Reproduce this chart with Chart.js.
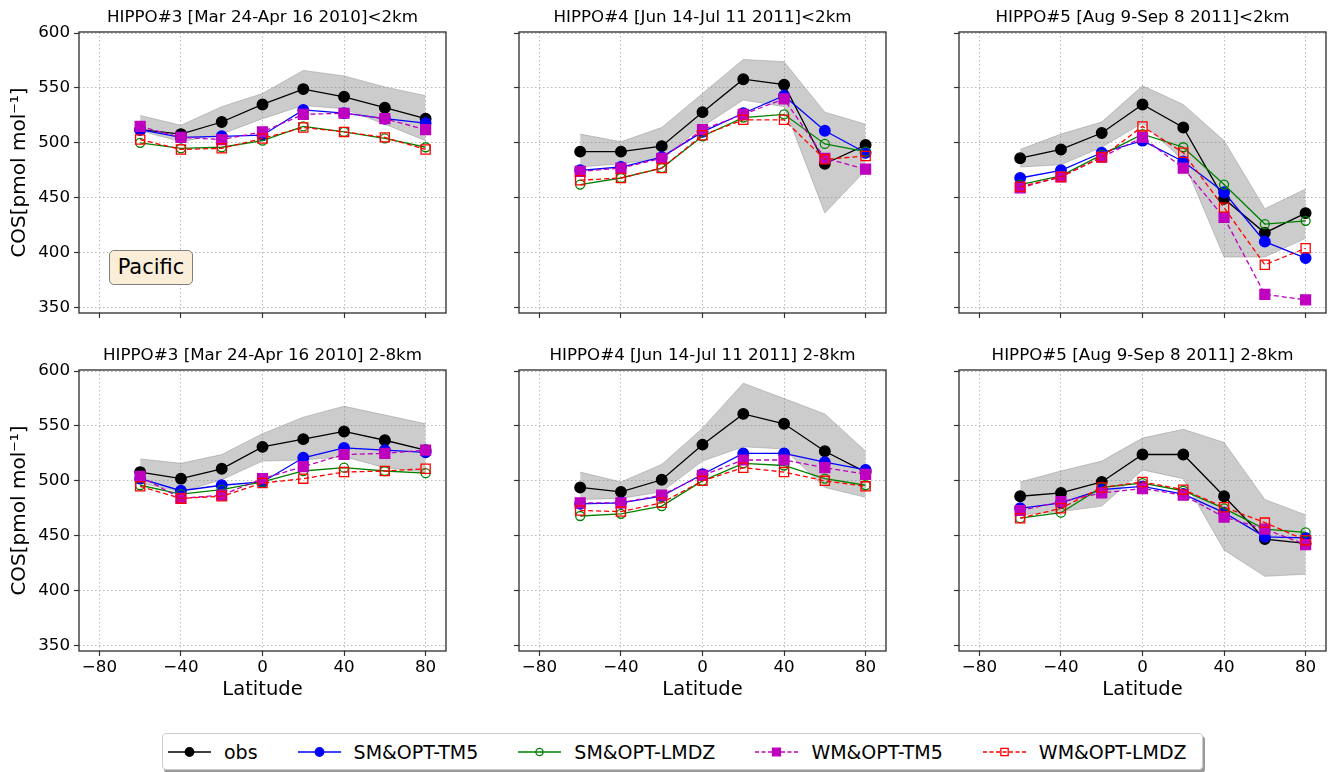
<!DOCTYPE html>
<html>
<head>
<meta charset="utf-8">
<script src="https://cdn.jsdelivr.net/npm/chart.js@4.4.0/dist/chart.umd.min.js"></script>
<style>
  body { margin: 0; background: #fff; }
  #fig { position: relative; width: 1328px; height: 772px; overflow: hidden; font-family: 'DejaVu Sans', sans-serif; }
  canvas.panel { position: absolute; }
  #pacific {
    position: absolute; left: 109px; top: 250px; width: 84px; height: 35px;
    box-sizing: border-box; border: 1px solid #808080; border-radius: 5px;
    background: #faeed9; font-size: 21px; line-height: 33px; text-align: center; color: #000;
  }
  #legend {
    position: absolute; left: 162px; top: 733px; width: 1041px; height: 37px;
    box-sizing: border-box; border: 1px solid #cccccc; border-radius: 4px; background: #fff;
    box-shadow: 2px 3px 0 #9a9a9a; display: flex; align-items: center; padding-left: 5px;
    font-size: 19px; color: #000;
  }
  .item { display: flex; align-items: center; margin-right: 40px; white-space: nowrap; }
  .item canvas { margin-right: 13px; }
</style>
</head>
<body>
<div id="fig">
  <div id="pacific">Pacific</div>
  <div id="legend"></div>
</div>
<script>
const lat = [-60, -40, -20, 0, 20, 40, 60, 80];
const xTicks = [-80, -40, 0, 40, 80];
const yTicks = [350, 400, 450, 500, 550, 600];

const titles = [
  'HIPPO#3 [Mar 24-Apr 16 2010]<2km',
  'HIPPO#4 [Jun 14-Jul 11 2011]<2km',
  'HIPPO#5 [Aug 9-Sep 8 2011]<2km',
  'HIPPO#3 [Mar 24-Apr 16 2010] 2-8km',
  'HIPPO#4 [Jun 14-Jul 11 2011] 2-8km',
  'HIPPO#5 [Aug 9-Sep 8 2011] 2-8km'
];
const seriesNames = ['obs', 'SM&OPT-TM5', 'SM&OPT-LMDZ', 'WM&OPT-TM5', 'WM&OPT-LMDZ'];

// HIPPO#3 <2km
const h3LowObs    = [512, 508, 519, 535, 549, 542, 532, 522];
const h3LowSmTm5  = [512, 505, 506, 507, 530, 527, 522, 518];
const h3LowSmLmdz = [500, 495, 496, 502, 515, 510, 504, 496];
const h3LowWmTm5  = [515, 505, 503, 510, 526, 527, 522, 512];
const h3LowWmLmdz = [503, 494, 495, 504, 514, 510, 505, 494];
const h3LowHi     = [525, 516, 533, 545, 566, 561, 551, 543];
const h3LowLo     = [511, 501, 508, 522, 534, 531, 517, 502];

// HIPPO#4 <2km
const h4LowObs    = [492, 492, 497, 528, 558, 553, 481, 498];
const h4LowSmTm5  = [475, 478, 487, 510, 527, 543, 511, 491];
const h4LowSmLmdz = [462, 468, 477, 506, 523, 526, 499, 492];
const h4LowWmTm5  = [474, 477, 486, 512, 526, 540, 486, 476];
const h4LowWmLmdz = [466, 468, 477, 507, 521, 521, 485, 488];
const h4LowHi     = [508, 501, 514, 545, 576, 574, 528, 517];
const h4LowLo     = [478, 481, 486, 515, 539, 533, 436, 475];

// HIPPO#5 <2km
const h5LowObs    = [486, 494, 509, 535, 514, 449, 418, 436];
const h5LowSmTm5  = [468, 475, 491, 502, 483, 455, 410, 395];
const h5LowSmLmdz = [462, 470, 489, 508, 496, 462, 426, 429];
const h5LowWmTm5  = [459, 469, 487, 505, 477, 432, 362, 357];
const h5LowWmLmdz = [460, 469, 487, 515, 491, 441, 389, 404];
const h5LowHi     = [494, 508, 519, 552, 535, 502, 440, 458];
const h5LowLo     = [478, 480, 496, 518, 484, 396, 396, 413];

// HIPPO#3 2-8km
const h3MidObs    = [508, 502, 511, 531, 538, 545, 537, 528];
const h3MidSmTm5  = [502, 491, 496, 499, 521, 530, 528, 526];
const h3MidSmLmdz = [496, 488, 492, 499, 509, 512, 509, 507];
const h3MidWmTm5  = [504, 484, 487, 502, 513, 524, 525, 528];
const h3MidWmLmdz = [495, 484, 486, 498, 502, 508, 509, 511];
const h3MidHi     = [520, 516, 524, 543, 558, 568, 560, 552];
const h3MidLo     = [498, 490, 501, 518, 519, 522, 512, 508];

// HIPPO#4 2-8km
const h4MidObs    = [494, 490, 501, 533, 561, 552, 527, 508];
const h4MidSmTm5  = [479, 480, 486, 506, 525, 525, 517, 510];
const h4MidSmLmdz = [468, 470, 477, 500, 516, 514, 502, 496];
const h4MidWmTm5  = [480, 480, 487, 505, 519, 519, 512, 506];
const h4MidWmLmdz = [473, 472, 480, 500, 512, 508, 500, 495];
const h4MidHi     = [508, 499, 515, 548, 589, 575, 561, 527];
const h4MidLo     = [483, 484, 490, 518, 531, 529, 494, 485];

// HIPPO#5 2-8km
const h5MidObs    = [486, 489, 499, 524, 524, 486, 447, 443];
const h5MidSmTm5  = [475, 480, 492, 495, 488, 471, 449, 448];
const h5MidSmLmdz = [466, 471, 494, 498, 491, 475, 456, 453];
const h5MidWmTm5  = [473, 481, 489, 493, 487, 467, 456, 442];
const h5MidWmLmdz = [466, 475, 494, 499, 492, 476, 462, 446];
const h5MidHi     = [499, 509, 518, 539, 547, 535, 483, 469];
const h5MidLo     = [469, 472, 477, 510, 502, 437, 413, 415];

const panelSeries = [
  [h3LowObs, h3LowSmTm5, h3LowSmLmdz, h3LowWmTm5, h3LowWmLmdz, h3LowHi, h3LowLo],
  [h4LowObs, h4LowSmTm5, h4LowSmLmdz, h4LowWmTm5, h4LowWmLmdz, h4LowHi, h4LowLo],
  [h5LowObs, h5LowSmTm5, h5LowSmLmdz, h5LowWmTm5, h5LowWmLmdz, h5LowHi, h5LowLo],
  [h3MidObs, h3MidSmTm5, h3MidSmLmdz, h3MidWmTm5, h3MidWmLmdz, h3MidHi, h3MidLo],
  [h4MidObs, h4MidSmTm5, h4MidSmLmdz, h4MidWmTm5, h4MidWmLmdz, h4MidHi, h4MidLo],
  [h5MidObs, h5MidSmTm5, h5MidSmLmdz, h5MidWmTm5, h5MidWmLmdz, h5MidHi, h5MidLo]
];

const FONT = "'DejaVu Sans', sans-serif";
const MAGENTA = '#bf00bf';

// line + marker style per series
const styles = [
  { color: '#000000', fill: '#000000', point: 'circle', r: 5.3, dash: [] },
  { color: '#0000ff', fill: '#0000ff', point: 'circle', r: 5.3, dash: [] },
  { color: '#008000', fill: 'rgba(0,0,0,0)', point: 'circle', r: 4.5, dash: [] },
  { color: MAGENTA,   fill: MAGENTA,   point: 'rect',   r: 7,   dash: [5, 3] },
  { color: '#ff0000', fill: 'rgba(0,0,0,0)', point: 'rect',   r: 6.5, dash: [5, 3] }
];

const toPts = vals => vals.map((v, i) => ({ x: lat[i], y: v }));

const frame = {
  id: 'frame',
  afterDraw(chart) {
    const a = chart.chartArea, ctx = chart.ctx;
    ctx.save();
    ctx.strokeStyle = '#2b2b2b';
    ctx.lineWidth = 1.3;
    ctx.strokeRect(a.left, a.top, a.right - a.left, a.bottom - a.top);
    ctx.restore();
  }
};

const fig = document.getElementById('fig');
const plotLefts = [79, 519, 959];
const plotTops = [32, 370];
const plotW = 367, plotH = 281;

panelSeries.forEach((series, p) => {
  const col = p % 3, row = Math.floor(p / 3);
  // top row gets room below for the y labels' overflow so the plot keeps its height
  const xAxisH = row ? 54 : 22;
  const cv = document.createElement('canvas');
  cv.className = 'panel';
  cv.width = 79 + plotW + 6;
  cv.height = 32 + plotH + xAxisH;
  cv.style.left = (plotLefts[col] - 79) + 'px';
  cv.style.top = (plotTops[row] - 32) + 'px';
  fig.insertBefore(cv, fig.firstChild);

  const datasets = series.slice(0, 5).map((vals, k) => ({
    label: seriesNames[k],
    data: toPts(vals),
    borderColor: styles[k].color,
    borderWidth: 1.3,
    borderDash: styles[k].dash,
    pointStyle: styles[k].point,
    pointRadius: styles[k].r,
    pointBackgroundColor: styles[k].fill,
    pointBorderColor: styles[k].color,
    pointBorderWidth: 1.3,
    tension: 0,
    fill: false,
    order: 5 - k
  }));
  datasets.push({
    label: 'range',
    data: toPts(series[5]),
    borderColor: 'rgba(128,128,128,0.4)',
    backgroundColor: 'rgba(128,128,128,0.4)',
    borderWidth: 1,
    pointRadius: 0,
    tension: 0,
    fill: '+1',
    order: 10
  });
  datasets.push({
    label: 'range-lo',
    data: toPts(series[6]),
    borderColor: 'rgba(128,128,128,0.4)',
    borderWidth: 1,
    pointRadius: 0,
    tension: 0,
    fill: false,
    order: 10
  });

  const grid = { color: '#b8b8b8', lineWidth: 1, tickColor: '#333', tickLength: 5, tickWidth: 1.2 };
  const border = { display: false, dash: [1.5, 2.5] };

  new Chart(cv, {
    type: 'line',
    data: { datasets },
    options: {
      responsive: false,
      animation: false,
      events: [],
      layout: { padding: { left: 0, right: 6, top: 0, bottom: 0 }, autoPadding: false },
      plugins: {
        legend: { display: false },
        tooltip: { enabled: false },
        title: {
          display: true,
          fullSize: false,
          text: titles[p],
          color: '#000',
          font: { family: FONT, size: 16.7, weight: 'normal', lineHeight: 1.2 },
          padding: { top: 7.5, bottom: 4.46 }
        }
      },
      scales: {
        x: {
          type: 'linear',
          min: -90,
          max: 90,
          afterBuildTicks: s => { s.ticks = xTicks.map(v => ({ value: v })); },
          afterFit: s => { s.height = xAxisH; },
          ticks: {
            display: row === 1,
            color: '#000',
            padding: 1.5,
            maxRotation: 0,
            font: { family: FONT, size: 16.7 },
            callback: v => String(v).replace('-', '\u2212')
          },
          grid,
          border,
          title: {
            display: row === 1,
            text: 'Latitude',
            color: '#000',
            font: { family: FONT, size: 19.5 },
            padding: { top: 0, bottom: 3.3 }
          }
        },
        y: {
          type: 'linear',
          min: 345,
          max: 601,
          afterBuildTicks: s => { s.ticks = yTicks.map(v => ({ value: v })); },
          afterFit: s => { s.width = 79; },
          ticks: {
            display: col === 0,
            color: '#000',
            padding: 4,
            font: { family: FONT, size: 16.7 }
          },
          grid,
          border,
          title: {
            display: col === 0,
            text: 'COS[pmol mol\u207B\u00B9]',
            color: '#000',
            font: { family: FONT, size: 20 },
            padding: { top: 8, bottom: 0 }
          }
        }
      }
    },
    plugins: [frame]
  });
});

// legend
const legend = document.getElementById('legend');
styles.forEach((st, k) => {
  const item = document.createElement('div');
  item.className = 'item';
  const ic = document.createElement('canvas');
  ic.width = 43; ic.height = 20;
  const c = ic.getContext('2d');
  c.strokeStyle = st.color;
  c.lineWidth = 1.3;
  c.setLineDash(st.dash.length ? [4, 2.5] : []);
  c.beginPath(); c.moveTo(0, 10); c.lineTo(43, 10); c.stroke();
  c.setLineDash([]);
  c.fillStyle = st.fill;
  c.beginPath();
  if (st.point === 'circle') {
    c.arc(21.5, 10, st.r * 0.8, 0, Math.PI * 2);
  } else {
    const h = st.r * Math.SQRT1_2 * 0.8;
    c.rect(21.5 - h, 10 - h, 2 * h, 2 * h);
  }
  c.fill(); c.stroke();
  const t = document.createElement('span');
  t.textContent = seriesNames[k];
  item.appendChild(ic);
  item.appendChild(t);
  if (k === styles.length - 1) item.style.marginRight = '0';
  legend.appendChild(item);
});
</script>
</body>
</html>
